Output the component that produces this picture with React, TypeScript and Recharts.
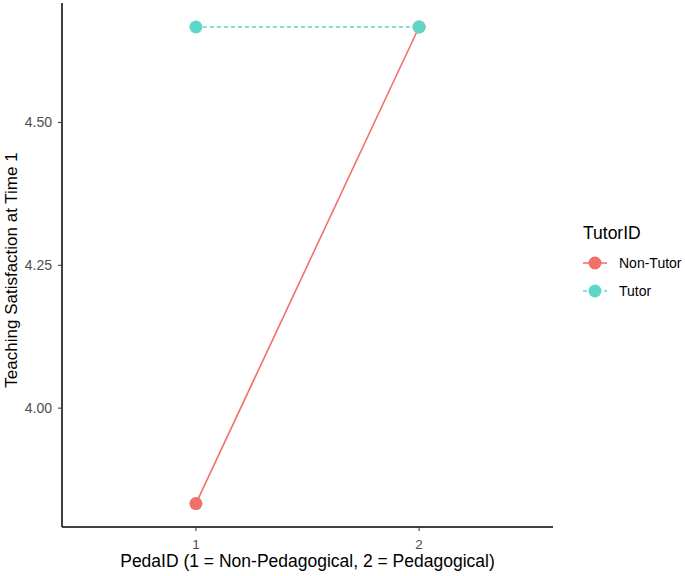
import { LineChart, Line, XAxis, YAxis, Label } from "recharts";

// PedaID levels and the group means
const pedaLevels = [1, 2];
const nonTutorMeans = [3.833, 4.667];
const tutorMeans = [4.667, 4.667];
const yTicks = [4.0, 4.25, 4.5];

const RED = "#F0716A";
const TEAL = "#5CD7C8";
const FONT = "'Liberation Sans', Arial, Helvetica, sans-serif";

const data = pedaLevels.map((x, i) => ({
  x,
  nonTutor: nonTutorMeans[i],
  tutor: tutorMeans[i],
}));

const legendItems = [
  { name: "Non-Tutor", color: RED, dash: undefined as string | undefined },
  { name: "Tutor", color: TEAL, dash: "4 3" },
];

export default function App() {
  return (
    <div style={{ position: "absolute", left: 0, top: 0, width: 685, height: 576, background: "#fff", fontFamily: FONT }}>
      <LineChart
        width={685}
        height={576}
        data={data}
        margin={{ top: 3, right: 132, bottom: 0, left: 0 }}
      >
        <XAxis
          dataKey="x"
          type="number"
          domain={[0.4, 2.6]}
          ticks={pedaLevels}
          height={49}
          tickSize={4}
          tickMargin={8}
          axisLine={{ stroke: "#000", strokeWidth: 1.5 }}
          tickLine={{ stroke: "#333" }}
          tick={{ fill: "#4d4d4d", fontSize: 13.5, fontFamily: FONT }}
        >
          <Label
            content={({ viewBox }: any) => (
              <text
                x={viewBox.x + viewBox.width / 2}
                y={567}
                textAnchor="middle"
                fontSize={17.5}
                fontFamily={FONT}
                fill="#000"
              >
                PedaID (1 = Non-Pedagogical, 2 = Pedagogical)
              </text>
            )}
          />
        </XAxis>
        <YAxis
          type="number"
          domain={[3.792, 4.709]}
          ticks={yTicks}
          tickFormatter={(v: number) => v.toFixed(2)}
          width={62}
          tickSize={4}
          tickMargin={6}
          axisLine={{ stroke: "#000", strokeWidth: 1.5 }}
          tickLine={{ stroke: "#333" }}
          tick={{ fill: "#4d4d4d", fontSize: 14, fontFamily: FONT }}
        >
          <Label
            content={({ viewBox }: any) => {
              const cx = 16.5;
              const cy = viewBox.y + viewBox.height / 2 + 5;
              return (
                <text
                  x={cx}
                  y={cy}
                  transform={`rotate(-90, ${cx}, ${cy})`}
                  textAnchor="middle"
                  fontSize={17}
                  fontFamily={FONT}
                  fill="#000"
                >
                  Teaching Satisfaction at Time 1
                </text>
              );
            }}
          />
        </YAxis>
        <Line
          dataKey="nonTutor"
          stroke={RED}
          strokeWidth={1.6}
          dot={{ r: 6.5, fill: RED, stroke: "none" }}
          activeDot={false}
          isAnimationActive={false}
        />
        <Line
          dataKey="tutor"
          stroke={TEAL}
          strokeWidth={1.6}
          strokeDasharray="4 3"
          dot={{ r: 6.5, fill: TEAL, stroke: "none", strokeDasharray: "0" }}
          activeDot={false}
          isAnimationActive={false}
        />
      </LineChart>
      <svg width={110} height={100} style={{ position: "absolute", left: 575, top: 215 }}>
        <text x={8} y={24} fontSize={17.5} fontFamily={FONT} fill="#000">TutorID</text>
        {legendItems.map((it, i) => {
          const cy = 48 + i * 28;
          return (
            <g key={it.name}>
              <line x1={8} y1={cy} x2={32} y2={cy} stroke={it.color} strokeWidth={1.6} strokeDasharray={it.dash} />
              <circle cx={20} cy={cy} r={6.5} fill={it.color} />
              <text x={44} y={cy + 5} fontSize={14} fontFamily={FONT} fill="#000">{it.name}</text>
            </g>
          );
        })}
      </svg>
    </div>
  );
}
